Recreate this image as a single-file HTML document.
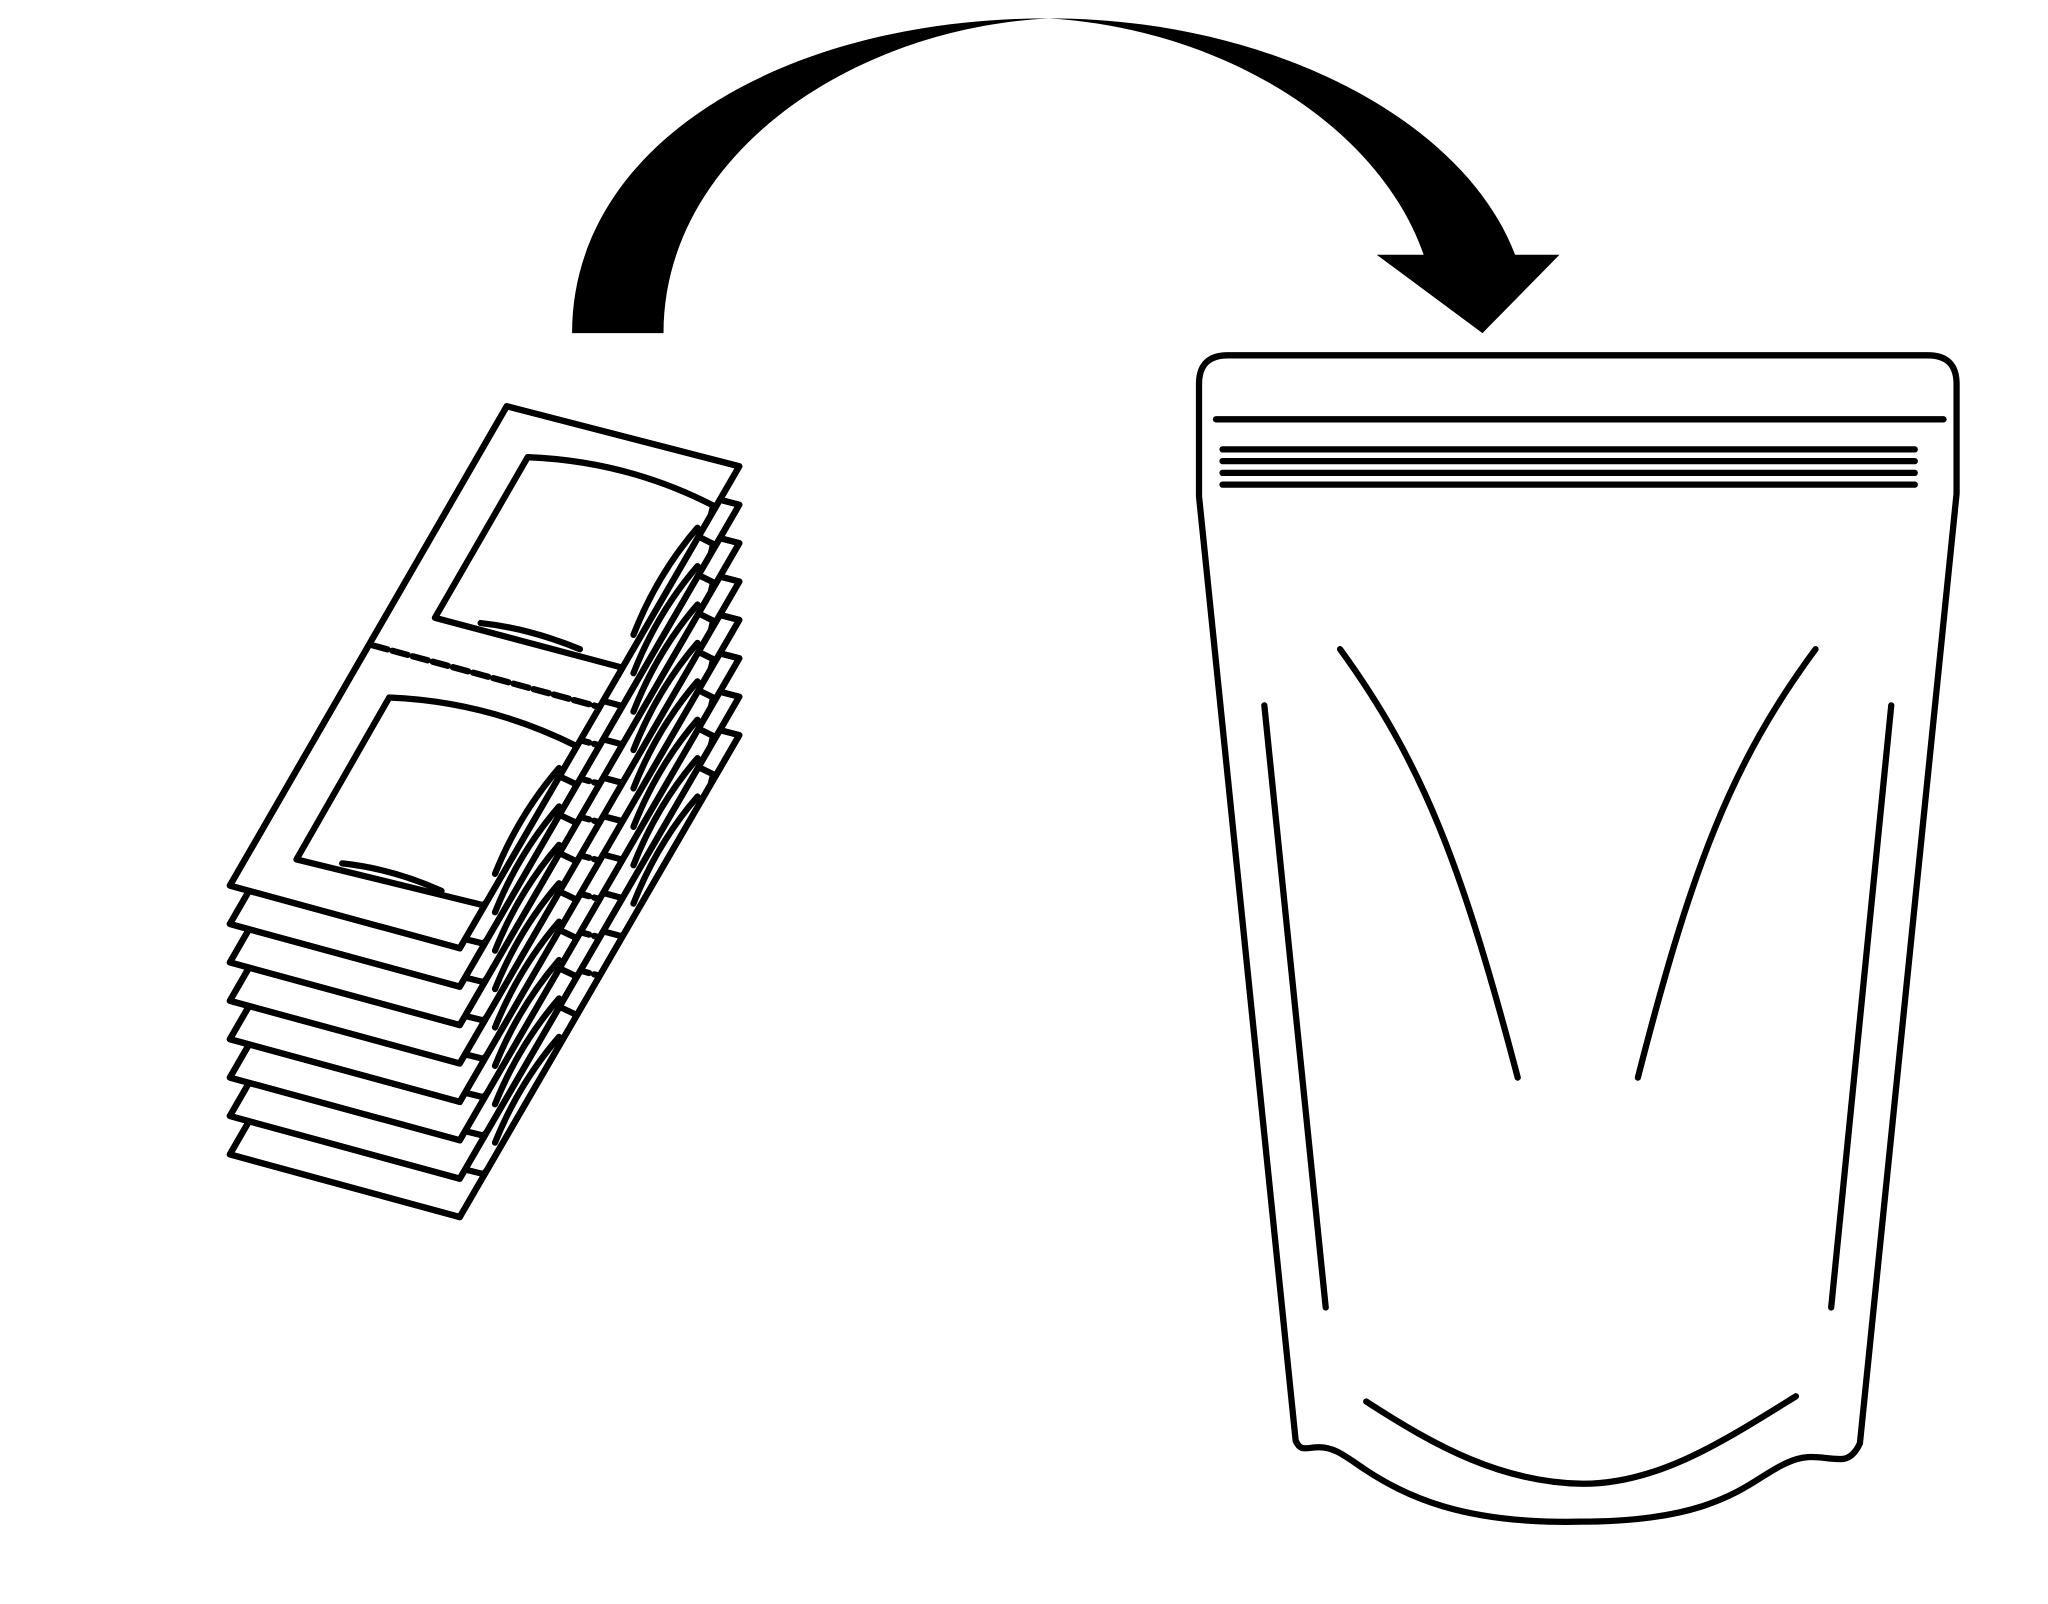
<!DOCTYPE html>
<html><head><meta charset="utf-8"><style>html,body{margin:0;padding:0;background:#fff}svg{display:block}</style></head>
<body>
<svg width="2048" height="1604" viewBox="0 0 1568 1228" xmlns="http://www.w3.org/2000/svg">
<defs>
<clipPath id="sc"><path d="M388,311 L566,357 L352,726 L176,678 Z"/></clipPath>
<g id="sheet" stroke="#000" stroke-width="4.8" stroke-linejoin="round" stroke-linecap="round">
<path d="M388,311 L566,357 L352,726 L176,678 Z" fill="#fff"/>
<g clip-path="url(#sc)" fill="none">
<path d="M404,350 Q480,353 546,387 Q530,460 476,511 L333,473 Z"/>
<path d="M368,477 Q405,481 444,497"/>
<path d="M485,486 Q503,440 534,404"/>
<path d="M285,494 L458,541" stroke-dasharray="12,4"/>
<path d="M298,534 Q373,537 441,571 Q423,643 370,693 L227,658 Z"/>
<path d="M262,661 Q300,665 338,682"/>
<path d="M379,669 Q397,624 428,588"/>
</g>
<path d="M388,311 L566,357 L352,726 L176,678 Z" fill="none"/>
</g>
</defs>
<rect width="1568" height="1228" fill="#fff"/>
<use href="#sheet" transform="translate(0,205.8)"/>
<use href="#sheet" transform="translate(0,176.4)"/>
<use href="#sheet" transform="translate(0,147)"/>
<use href="#sheet" transform="translate(0,117.6)"/>
<use href="#sheet" transform="translate(0,88.2)"/>
<use href="#sheet" transform="translate(0,58.8)"/>
<use href="#sheet" transform="translate(0,29.4)"/>
<use href="#sheet"/>
<path d="M438,255 C438,110 600,14 803,14 C970,14 1120,90 1160,195 L1194,195 L1135,255 L1054,195 L1090,195 C1055,95 935,22 803,14 C650,22 508,120 508,255 Z" fill="#000"/>
<g fill="none" stroke="#000" stroke-width="4.8" stroke-linecap="round" stroke-linejoin="round">
<path d="M918,380 L918,294 Q918,272 940,272 L1476,272 Q1498,272 1498,294 L1498,378 L1424,1105 Q1418,1118 1408,1117 C1395,1117 1385,1112 1368,1120 C1340,1132 1320,1165 1210,1165 C1120,1167 1075,1145 1045,1125 C1030,1115 1022,1108 1010,1108 C1000,1108 996,1112 992,1103 Z"/>
<path d="M931,321 L1488,321"/>
<path d="M936,344 L1466,344 M936,353 L1466,353 M936,362 L1466,362 M936,371 L1466,371"/>
<path d="M968,540 L1015,1001"/>
<path d="M1448,540 L1402,1001"/>
<path d="M1026,497 C1090,585 1120,665 1162,825"/>
<path d="M1390,497 C1325,585 1295,665 1254,825"/>
<path d="M1046,1073 C1100,1108 1150,1135 1212,1136 C1270,1136 1320,1103 1375,1069"/>
</g>
</svg>
</body></html>
